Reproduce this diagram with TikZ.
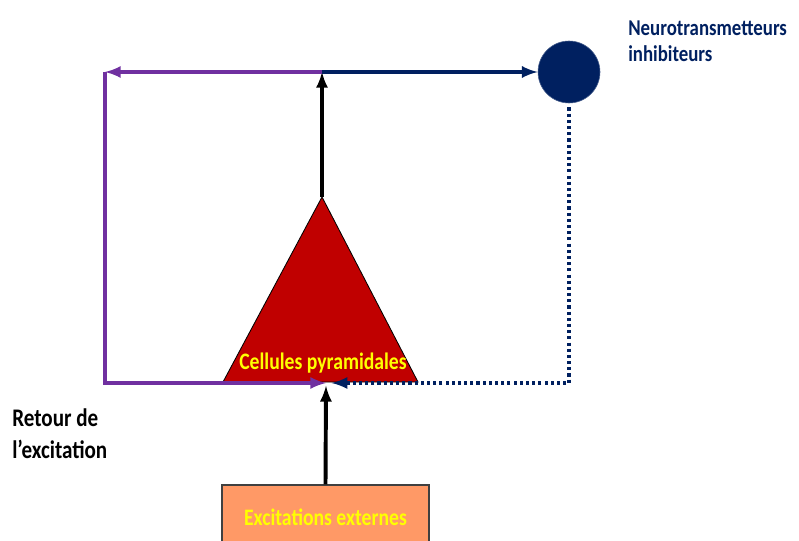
\documentclass[tikz,border=0pt]{standalone}
\usepackage{xcolor}
\usepackage{graphicx}
\usepackage{fontspec}
\setmainfont{Carlito}
\usepackage{tikz}
\usetikzlibrary{shapes,arrows,positioning,calc}

\definecolor{pyrared}{HTML}{C00000}
\definecolor{loopviolet}{HTML}{7030A0}
\definecolor{inhnavy}{HTML}{002060}
\definecolor{extorange}{HTML}{FF9966}
\definecolor{labelyellow}{HTML}{FFFF00}

% taller letters, as in the reference
\newcommand{\tall}[1]{\scalebox{1}[1.2]{#1}}

\tikzset{
    feedline/.style={line width=2.8pt,loopviolet},
    inhline/.style={line width=2.8pt,inhnavy},
    fireline/.style={line width=2.8pt,black},
    lbl/.style={font=\bfseries,align=left,inner sep=0pt},
}

\begin{document}
\begin{tikzpicture}
        \useasboundingbox (0,0) rectangle (19.975,13.5);
        \clip (0,0) rectangle (19.975,13.5);

        % Key points of the loop
        \coordinate (apex) at (8.05,8.575);
        \coordinate (baseL) at (5.575,3.95);
        \coordinate (baseR) at (10.45,3.95);
        \coordinate (topJ) at (8.05,11.7);
        \coordinate (topL) at (2.625,11.7);
        \coordinate (botL) at (2.625,3.925);
        \coordinate (botJ) at (8.15,3.925);
        \coordinate (botR) at (14.225,3.925);

        % Pyramidal cells
        \draw[fill=pyrared,line width=0.6pt] (apex) -- (baseL) -- (baseR) -- cycle;
        \node[lbl,text=labelyellow,font=\fontsize{14}{17}\selectfont\bfseries] (pyr) at (8.075,4.42) {\tall{Cellules pyramidales}};

        % Inhibitory neurotransmitters
        \node[circle,fill=inhnavy,draw=inhnavy!70,minimum size=1.55cm,inner sep=0pt] (inh) at (14.225,11.7) {};
        \node[lbl,text=inhnavy,anchor=west,font=\fontsize{13.4}{19}\selectfont\bfseries] (inhtxt) at (15.7,12.47)
            {\tall{Neurotransmetteurs}\\\tall{inhibiteurs}};

        % External excitation
        \node[draw=black!75,fill=extorange,line width=0.8pt,minimum width=5.175cm,minimum height=1.6cm,
              text=labelyellow,font=\fontsize{14}{17}\selectfont\bfseries] (ext) at (8.1375,0.575) {\tall{Excitations externes}};

        \node[lbl,anchor=west,font=\fontsize{15}{22.6}\selectfont\bfseries] (ret) at (0.3,2.65)
            {\tall{Retour de}\\\tall{l’excitation}};

        % Connectors
        \draw[fireline,-latex] (apex) -- (topJ);
        \draw[feedline,-latex] (topJ) -- (topL);
        \draw[inhline,-latex] (topJ) -- (inh.west);
        \draw[feedline,-latex] (topL) -- (botL) -- (botJ);
        \draw[inhline,dash pattern=on 2.2pt off 2.2pt,-latex] ([yshift=-3pt]inh.south) -- (botR) -- ([xshift=4pt]botJ);
        \draw[fireline,-latex] (ext.north) -- ([yshift=-2pt]botJ);
\end{tikzpicture}
\end{document}
